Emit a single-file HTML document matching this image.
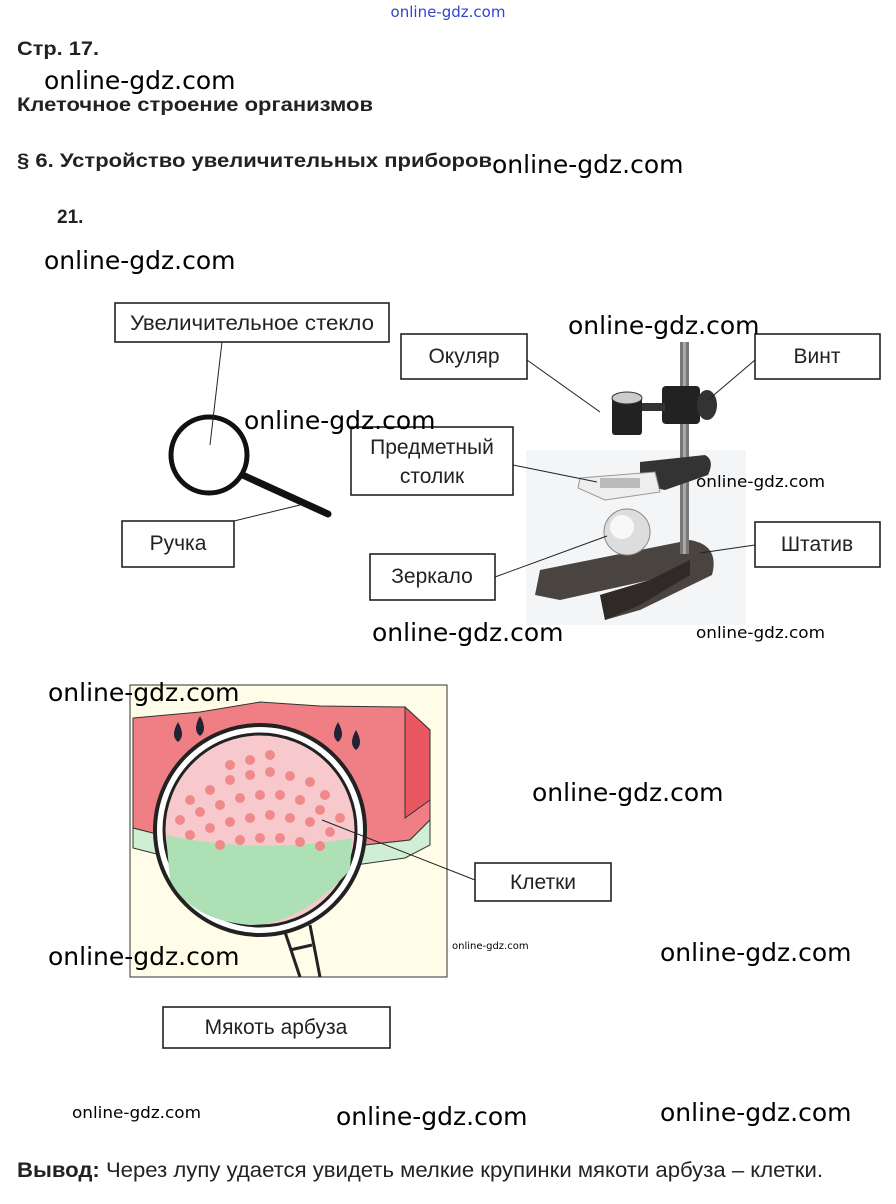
<!DOCTYPE html>
<html><head><meta charset="utf-8"><style>
html,body{margin:0;padding:0;background:#fff}
svg{display:block}
.b{font-family:"Liberation Sans",Arial,sans-serif;font-weight:bold;fill:#222}
.w{font-family:"DejaVu Sans","Liberation Sans",sans-serif;fill:#000}
.l{font-family:"Liberation Sans",Arial,sans-serif;font-size:21px;fill:#222}
.bx{fill:#fff;stroke:#222;stroke-width:1.6}
.ln{stroke:#222;stroke-width:1;fill:none}
</style></head><body>
<svg width="896" height="1204" viewBox="0 0 896 1204" xmlns="http://www.w3.org/2000/svg">
<text x="448" y="17" text-anchor="middle" class="w" font-size="15" style="fill:#3344cc">online-gdz.com</text>
<text x="17" y="55" class="b" font-size="19" textLength="82" lengthAdjust="spacingAndGlyphs">Стр. 17.</text>
<text x="17" y="111" class="b" font-size="19" textLength="356" lengthAdjust="spacingAndGlyphs">Клеточное строение организмов</text>
<text x="17" y="167" class="b" font-size="19" textLength="475" lengthAdjust="spacingAndGlyphs">§ 6. Устройство увеличительных приборов</text>
<text x="57" y="223" class="b" font-size="19">21.</text>

<!-- magnifier -->
<line x1="236" y1="472" x2="328" y2="514" stroke="#111" stroke-width="7" stroke-linecap="round"/>
<circle cx="209" cy="455" r="38" fill="#fff" stroke="#111" stroke-width="5"/>

<!-- microscope -->
<rect x="526" y="450" width="220" height="175" fill="#f3f5f7"/>
<path d="M540 570 L690 540 Q720 545 712 575 L640 610 L605 620 L600 595 L650 580 L560 600 L535 595 Z" fill="#4a4440"/>
<path d="M600 595 L650 580 L690 560 L690 575 L640 605 L605 620 Z" fill="#2f2a27"/>
<rect x="680" y="342" width="9" height="212" fill="#777"/>
<rect x="683" y="342" width="3" height="212" fill="#aaa"/>
<rect x="662" y="386" width="38" height="38" rx="4" fill="#222"/>
<ellipse cx="707" cy="405" rx="10" ry="15" fill="#333"/>
<rect x="635" y="403" width="30" height="8" fill="#333"/>
<rect x="612" y="397" width="30" height="38" rx="3" fill="#222"/>
<ellipse cx="627" cy="398" rx="15" ry="6" fill="#ccc" stroke="#333"/>
<path d="M640 462 L705 455 Q715 460 708 475 L665 490 L640 485 Z" fill="#333"/>
<path d="M580 478 L655 472 L660 492 L605 500 L578 488 Z" fill="#eee" stroke="#999"/>
<rect x="600" y="478" width="40" height="10" fill="#bbb"/>
<circle cx="627" cy="532" r="23" fill="#ddd" stroke="#888"/>
<circle cx="622" cy="527" r="12" fill="#f8f8f8"/>

<!-- watermelon -->
<rect x="130" y="685" width="317" height="292" fill="#fffde8" stroke="#333" stroke-width="1"/>
<path d="M133 718 L200 712 L260 702 L320 706 L405 707 L430 730 L430 820 L410 840 L320 850 L200 845 L133 828 Z" fill="#ef7f85" stroke="#333"/>
<path d="M405 707 L430 730 L430 800 L405 818 Z" fill="#e95860" stroke="#333"/>
<path d="M133 828 L200 845 L320 850 L410 840 L430 820 L430 845 L405 858 L320 870 L200 865 L133 848 Z" fill="#cfeed3" stroke="#333"/>
<circle cx="260" cy="830" r="105" fill="#fff" stroke="#222" stroke-width="4"/>
<circle cx="260" cy="830" r="96" fill="#f7c9cc" stroke="#222" stroke-width="3"/>
<path d="M166 835 Q260 855 352 838 L350 870 Q300 925 250 925 Q190 920 170 880 Z" fill="#aee0b6"/>
<g fill="#f08a8a">
<circle cx="190" cy="800" r="5"/><circle cx="210" cy="790" r="5"/><circle cx="230" cy="780" r="5"/><circle cx="250" cy="775" r="5"/><circle cx="270" cy="772" r="5"/><circle cx="290" cy="776" r="5"/><circle cx="310" cy="782" r="5"/><circle cx="325" cy="795" r="5"/>
<circle cx="180" cy="820" r="5"/><circle cx="200" cy="812" r="5"/><circle cx="220" cy="805" r="5"/><circle cx="240" cy="798" r="5"/><circle cx="260" cy="795" r="5"/><circle cx="280" cy="795" r="5"/><circle cx="300" cy="800" r="5"/><circle cx="320" cy="810" r="5"/><circle cx="340" cy="818" r="5"/>
<circle cx="190" cy="835" r="5"/><circle cx="210" cy="828" r="5"/><circle cx="230" cy="822" r="5"/><circle cx="250" cy="818" r="5"/><circle cx="270" cy="815" r="5"/><circle cx="290" cy="818" r="5"/><circle cx="310" cy="822" r="5"/><circle cx="330" cy="832" r="5"/>
<circle cx="220" cy="845" r="5"/><circle cx="240" cy="840" r="5"/><circle cx="260" cy="838" r="5"/><circle cx="280" cy="838" r="5"/><circle cx="300" cy="842" r="5"/><circle cx="320" cy="846" r="5"/>
<circle cx="250" cy="760" r="5"/><circle cx="270" cy="755" r="5"/><circle cx="230" cy="765" r="5"/>
</g>
<path d="M178 722 q-8 14 0 20 q8 -6 0 -20z M200 716 q-8 14 0 20 q8 -6 0 -20z M338 722 q-8 14 0 20 q8 -6 0 -20z M356 730 q-8 14 0 20 q8 -6 0 -20z" fill="#223"/>
<path d="M285 932 L300 977 M310 925 L320 977 M290 950 L312 945" stroke="#222" stroke-width="3" fill="none"/>

<!-- lines -->
<line class="ln" x1="222" y1="342" x2="210" y2="445"/>
<line class="ln" x1="234" y1="521" x2="300" y2="505"/>
<line class="ln" x1="527" y1="360" x2="600" y2="412"/>
<line class="ln" x1="755" y1="360" x2="708" y2="400"/>
<line class="ln" x1="513" y1="465" x2="597" y2="482"/>
<line class="ln" x1="495" y1="577" x2="607" y2="536"/>
<line class="ln" x1="755" y1="545" x2="700" y2="553"/>
<line class="ln" x1="475" y1="880" x2="322" y2="820"/>

<!-- boxes -->
<rect class="bx" x="115" y="303" width="274" height="39"/><text x="252" y="330" text-anchor="middle" class="l" textLength="244" lengthAdjust="spacingAndGlyphs">Увеличительное стекло</text>
<rect class="bx" x="401" y="334" width="126" height="45"/><text x="464" y="363" text-anchor="middle" class="l">Окуляр</text>
<rect class="bx" x="755" y="334" width="125" height="45"/><text x="817" y="363" text-anchor="middle" class="l">Винт</text>
<rect class="bx" x="351" y="427" width="162" height="68"/><text x="432" y="454" text-anchor="middle" class="l">Предметный</text><text x="432" y="483" text-anchor="middle" class="l">столик</text>
<rect class="bx" x="122" y="521" width="112" height="46"/><text x="178" y="550" text-anchor="middle" class="l">Ручка</text>
<rect class="bx" x="370" y="554" width="125" height="46"/><text x="432" y="583" text-anchor="middle" class="l">Зеркало</text>
<rect class="bx" x="755" y="522" width="125" height="45"/><text x="817" y="551" text-anchor="middle" class="l">Штатив</text>
<rect class="bx" x="475" y="863" width="136" height="38"/><text x="543" y="889" text-anchor="middle" class="l">Клетки</text>
<rect class="bx" x="163" y="1007" width="227" height="41"/><text x="276" y="1034" text-anchor="middle" class="l">Мякоть арбуза</text>

<!-- watermarks -->
<g class="w" font-size="25">
<text x="44" y="89">online-gdz.com</text>
<text x="492" y="173">online-gdz.com</text>
<text x="44" y="269">online-gdz.com</text>
<text x="568" y="334">online-gdz.com</text>
<text x="244" y="429">online-gdz.com</text>
<text x="372" y="641">online-gdz.com</text>
<text x="48" y="701">online-gdz.com</text>
<text x="532" y="801">online-gdz.com</text>
<text x="48" y="965">online-gdz.com</text>
<text x="660" y="961">online-gdz.com</text>
<text x="336" y="1125">online-gdz.com</text>
<text x="660" y="1121">online-gdz.com</text>
</g>
<g class="w" font-size="16">
<text x="696" y="487" textLength="129" lengthAdjust="spacingAndGlyphs">online-gdz.com</text>
<text x="696" y="638" textLength="129" lengthAdjust="spacingAndGlyphs">online-gdz.com</text>
<text x="72" y="1118" textLength="129" lengthAdjust="spacingAndGlyphs">online-gdz.com</text>
</g>
<text x="452" y="949" class="w" font-size="10">online-gdz.com</text>

<text x="17" y="1177" class="l" font-size="20" textLength="806" lengthAdjust="spacingAndGlyphs"><tspan font-weight="bold">Вывод:</tspan> Через лупу удается увидеть мелкие крупинки мякоти арбуза – клетки.</text>
</svg>
</body></html>
